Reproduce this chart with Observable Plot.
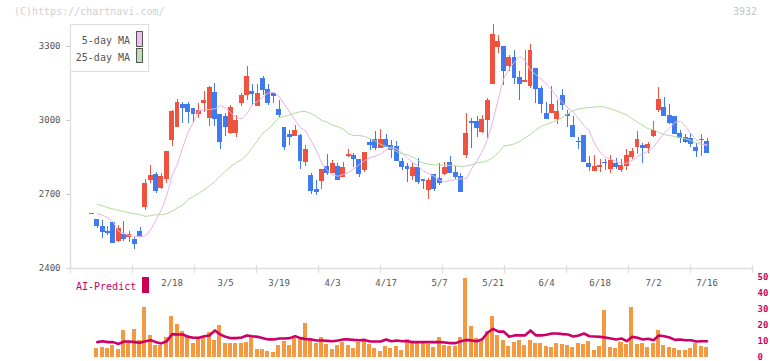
<!DOCTYPE html>
<html><head><meta charset="utf-8">
<script src="https://cdn.jsdelivr.net/npm/d3@7"></script>
<script src="https://cdn.jsdelivr.net/npm/@observablehq/plot@0.6"></script>
<style>
body{margin:0;background:#fff;}
#wrap{position:relative;width:772px;height:361px;overflow:hidden;font-family:"DejaVu Sans Mono",monospace;background:#fff;}
#wrap svg{position:absolute;left:0;overflow:visible;}
.abs{position:absolute;white-space:nowrap;font-size:10px;line-height:10px;}
</style></head><body><div id="wrap"></div>
<script>
// ---- data ----
const opens = [2618,2599,2570,2550,2586,2511,2538,2524,2519,2550,
2649,2757,2780,2723,2761,2919,2973,3064,3064,3047,
3023,3067,3007,3112,3024,3016,2946,2946,3067,3101,
3118,3057,3169,3126,3109,3045,2973,2943,2935,2939,
2831,2777,2720,2754,2814,2786,2814,2769,2855,2858,
2842,2797,2911,2923,2888,2923,2899,2895,2835,2814,
2774,2809,2760,2716,2781,2765,2781,2830,2789,2773,
2858,2996,2996,2953,3000,3146,3297,3300,3220,3254,
3173,3155,3139,3209,3129,3027,3027,3003,3101,3024,
2980,2916,2939,2827,2794,2811,2830,2803,2827,2797,
2815,2851,2892,2899,2888,2935,3040,3051,3020,3016,
2946,2932,2926,2889,2919,2915];
const highs = [2618,2599,2595,2570,2586,2574,2590,2550,2524,2567,
2761,2818,2789,2784,2874,3040,3085,3074,3072,3047,
3067,3118,3138,3151,3024,3027,3060,3020,3111,3220,
3146,3146,3178,3146,3111,3081,2973,2959,2980,2943,
2899,2784,2757,2801,2862,2838,2824,2831,2882,2865,
2842,2870,2923,2955,2963,2943,2919,2915,2845,2824,
2827,2845,2760,2766,2781,2827,2831,2854,2814,2786,
3028,3007,3016,3020,3089,3389,3345,3300,3263,3284,
3199,3282,3308,3209,3138,3074,3138,3081,3126,3040,
3016,2932,2939,2854,2858,2841,2841,2858,2845,2841,
2881,2885,2955,2905,2912,2996,3133,3092,3064,3016,
2959,2945,2946,2908,2943,2926];
const lows = [2618,2563,2523,2534,2503,2507,2511,2507,2478,2526,
2635,2746,2705,2719,2746,2895,2973,2986,2986,2986,
3007,3034,2976,2976,2881,2935,2943,2931,3057,3081,
3061,3057,3101,3061,3067,3011,2878,2899,2935,2801,
2812,2700,2696,2720,2777,2786,2757,2769,2849,2811,
2768,2790,2878,2878,2888,2892,2845,2835,2797,2750,
2757,2740,2720,2680,2712,2736,2777,2786,2762,2709,
2845,2886,2932,2949,2927,3146,3273,3142,3199,3146,
3081,3155,3128,3068,3027,3003,3027,2984,3040,2973,
2930,2881,2831,2794,2794,2790,2797,2786,2800,2790,
2797,2842,2862,2827,2867,2932,3034,3017,2985,2943,
2908,2908,2892,2851,2854,2867];
const closes = [2618,2570,2547,2543,2503,2563,2519,2538,2499,2526,
2745,2777,2713,2773,2874,3036,3074,3050,3034,3023,
3040,3081,3133,3005,2909,2973,3053,3000,3101,3178,
3104,3109,3122,3070,3098,3020,2892,2932,2959,2835,
2882,2713,2709,2801,2786,2824,2757,2809,2862,2842,
2781,2870,2900,2888,2923,2892,2878,2835,2811,2801,
2811,2750,2753,2757,2720,2743,2809,2786,2770,2709,
2946,2989,2966,3004,3081,3349,3320,3199,3255,3172,
3145,3161,3284,3126,3064,3003,3065,3035,3060,3017,
2930,2912,2831,2811,2814,2818,2824,2838,2808,2816,
2858,2874,2923,2885,2903,2959,3085,3017,2989,2943,
2926,2912,2903,2875,2923,2867];
const ma5 = [null,2622,2616,2605,2588,2550,2541,2534,2530,2530,
2532,2557,2597,2638,2696,2777,2824,2892,2953,2993,
3040,3043,3045,3047,3061,3050,3031,3011,3007,3027,
3065,3077,3095,3112,3114,3097,3065,3034,3000,2970,
2957,2916,2877,2827,2797,2780,2774,2781,2790,2804,
2822,2837,2849,2855,2865,2881,2892,2885,2867,2849,
2827,2815,2795,2784,2774,2757,2751,2757,2760,2764,
2764,2804,2838,2875,2926,3000,3090,3170,3209,3236,
3259,3243,3203,3186,3167,3148,3124,3095,3072,3050,
3034,3007,2980,2957,2905,2872,2851,2843,2835,2826,
2827,2838,2854,2865,2875,2892,2922,2949,2970,2993,
2997,2976,2946,2922,2905,2901];
const ma25 = [null,2661,2654,2646,2641,2635,2631,2626,2622,2618,
2611,2614,2618,2618,2622,2632,2646,2657,2680,2692,
2705,2719,2735,2752,2775,2795,2814,2830,2841,2861,
2890,2920,2950,2966,2989,3011,3017,3023,3030,3036,
3036,3028,3016,3000,2992,2981,2975,2965,2946,2939,
2939,2935,2926,2916,2903,2895,2885,2874,2865,2861,
2851,2838,2827,2823,2820,2820,2819,2818,2816,2814,
2815,2820,2828,2831,2837,2851,2869,2896,2900,2905,
2915,2930,2943,2962,2976,2984,2993,3000,3013,3027,
3040,3047,3050,3053,3054,3057,3054,3047,3040,3031,
3023,3007,2993,2980,2966,2963,2951,2943,2939,2935,
2931,2926,2919,2908,2903,2899];
const volumes = [null,5.6,6.5,5.6,7.5,5.0,16.9,9.2,17.5,10.6,
31.5,13.8,7.7,7.7,12.7,25.6,20.6,16.5,13.8,8.8,
12.3,12.9,15.4,10.6,20.0,8.8,8.8,8.8,8.8,9.6,
12.7,5.0,5.0,3.8,2.9,7.5,10.2,7.5,11.7,11.3,
21.3,10.8,8.8,12.3,8.1,5.0,7.5,9.2,7.5,5.6,
9.6,10.6,8.1,5.6,3.8,6.7,5.6,6.7,4.4,11.3,
8.8,8.8,8.8,8.1,6.3,12.3,7.5,6.7,7.1,12.3,
49.4,19.4,11.7,11.3,16.5,25.6,13.8,10.6,7.1,9.6,
10.6,7.5,10.6,8.8,8.8,6.7,6.3,8.8,8.1,7.5,
6.3,8.8,8.1,10.0,4.4,6.7,29.4,6.3,5.6,9.2,
8.1,31.0,8.1,8.8,6.3,8.8,16.9,7.5,6.3,5.6,
4.4,4.4,5.6,8.8,6.7,6.3];
const aiPredict = [null,9.6,10.2,9.6,9.6,8.5,10.0,10.0,9.6,9.2,
10.2,10.8,9.6,8.8,10.2,14.6,14.4,14.4,12.9,12.3,
12.3,13.3,13.8,16.9,14.4,12.9,12.1,12.1,12.5,13.8,
13.3,12.9,12.1,11.3,11.3,11.9,11.9,12.1,13.3,12.1,
11.5,11.3,10.6,10.6,10.4,10.2,10.6,11.3,11.3,11.0,
10.8,11.0,10.0,10.0,10.0,11.3,10.2,10.6,10.2,10.2,
9.6,9.6,9.6,9.6,9.6,9.6,9.4,9.0,9.0,10.2,
11.0,10.6,10.2,11.5,15.6,17.9,16.2,16.2,13.0,13.8,
13.8,13.8,16.9,13.8,13.8,14.2,15.0,15.0,14.6,14.4,
13.1,13.8,15.0,13.3,13.1,12.9,12.5,11.9,11.3,11.9,
10.2,12.9,12.3,11.3,11.7,10.8,13.8,13.3,12.5,11.0,
11.3,10.8,10.8,10.0,10.2,10.2];
const dateLabels = ["2/18","3/5","3/19","4/3","4/17","5/7","5/21","6/4","6/18","7/2","7/16"];
const dateLabelIdx = [15,25,35,45,55,65,75,85,95,105,115];
const priceTicks = [2400,2700,3000,3300];
const volTicks = [0,10,20,30,40,50];

// ---- build ----
const W = 772;
const xDomain = [-4, 123.5];
const up = "#ef5340", down = "#407af0";
const candles = opens.map((o, i) => ({i, o, h: highs[i], l: lows[i], c: closes[i]}));
const col = d => d.c >= d.o ? up : down;
const bodyLo = d => Math.min(d.o, d.c);
const bodyHi = d => Math.max(d.o, d.c, Math.min(d.o, d.c) + 4.5);
const series = arr => arr.map((v, i) => ({i, v})).filter(d => d.v != null);
const gridTicks = d3.range(12).map(k => xDomain[0] + k * (xDomain[1] - xDomain[0]) / 11);
const font = "'DejaVu Sans Mono', monospace";

const main = Plot.plot({
  width: W, height: 300,
  marginLeft: 70, marginRight: 20, marginTop: 24, marginBottom: 32,
  x: {domain: xDomain, label: null},
  y: {domain: [2400, 3389], label: null},
  color: {type: "identity"},
  style: {background: "transparent", fontFamily: font, fontSize: "9px", overflow: "visible"},
  marks: [
    Plot.axisY({ticks: priceTicks, label: null, tickSize: 4, tickPadding: 6, stroke: "#ccc", fill: "#555", tickFormat: d => String(d)}),
    Plot.axisX({ticks: gridTicks, label: null, tickSize: 8, dy: -3, tickFormat: () => "", stroke: "#ddd", strokeWidth: 1.3}),
    Plot.axisX({ticks: dateLabelIdx, label: null, tickSize: 0, tickPadding: 11, fill: "#555",
      tickFormat: d => dateLabels[dateLabelIdx.indexOf(d)]}),
    Plot.ruleY([2400], {stroke: "#ddd", strokeWidth: 1.3}),
    Plot.ruleX([xDomain[0]], {stroke: "#ddd", strokeWidth: 1.3}),
    Plot.ruleX(candles, {x: "i", y1: "l", y2: "h", stroke: col, strokeWidth: 1, shapeRendering: "crispEdges"}),
    Plot.rect(candles, {x1: d => d.i - 0.46, x2: d => d.i + 0.46, y1: bodyLo, y2: bodyHi, fill: col, shapeRendering: "crispEdges"}),
    Plot.line(series(ma25), {x: "i", y: "v", stroke: "#b2dba2", strokeWidth: 1}),
    Plot.line(series(ma5), {x: "i", y: "v", stroke: "#e9b2e9", strokeWidth: 1})
  ]
});
main.style.top = "0px";

const vol = Plot.plot({
  width: W, height: 91,
  marginLeft: 70, marginRight: 20, marginTop: 8, marginBottom: 3,
  x: {domain: xDomain, axis: null, label: null},
  y: {domain: [0, 50], label: null},
  style: {background: "transparent", fontFamily: font, fontSize: "9px", overflow: "visible"},
  marks: [
    Plot.rect(series(volumes), {x1: d => d.i - 0.46, x2: d => d.i + 0.29, y1: 0, y2: "v", fill: "#f4993f", shapeRendering: "crispEdges"}),
    Plot.line(series(aiPredict), {x: "i", y: "v", stroke: "#cc0066", strokeWidth: 2.6}),
    Plot.axisY({anchor: "right", label: null, ticks: volTicks, tickSize: 0, tickPadding: 5, fill: "#cc0066", fontWeight: "bold"})
  ]
});
vol.style.top = "269px";

const wrap = document.getElementById("wrap");
wrap.appendChild(main);
wrap.appendChild(vol);

function addDiv(html, css) {
  const d = document.createElement("div");
  d.className = "abs";
  d.innerHTML = html;
  Object.assign(d.style, css);
  wrap.appendChild(d);
  return d;
}
addDiv("(C)https://chartnavi.com/", {left: "14px", top: "7px", color: "#cfcfcf"});
addDiv("3932", {left: "733px", top: "7px", color: "#c8c8c8"});
// legend
addDiv("", {left: "70px", top: "24px", width: "79px", height: "48px", boxSizing: "border-box", border: "1px solid #ddd", background: "#fff"});
addDiv("5-day MA", {left: "70px", width: "60px", textAlign: "right", top: "35.5px", color: "#555"});
addDiv("25-day MA", {left: "70px", width: "60px", textAlign: "right", top: "52.5px", color: "#555"});
addDiv("", {left: "136px", top: "31px", width: "7px", height: "16px", boxSizing: "border-box", border: "1px solid #555", background: "#efc0ef"});
addDiv("", {left: "136px", top: "48px", width: "7px", height: "15px", boxSizing: "border-box", border: "1px solid #555", background: "#bfe0b6"});
// AI-Predict label
addDiv("AI-Predict", {left: "76px", top: "281.5px", color: "#cc0066"});
addDiv("", {left: "142px", top: "277px", width: "7px", height: "16px", background: "#cc0055"});
</script>
</body></html>
